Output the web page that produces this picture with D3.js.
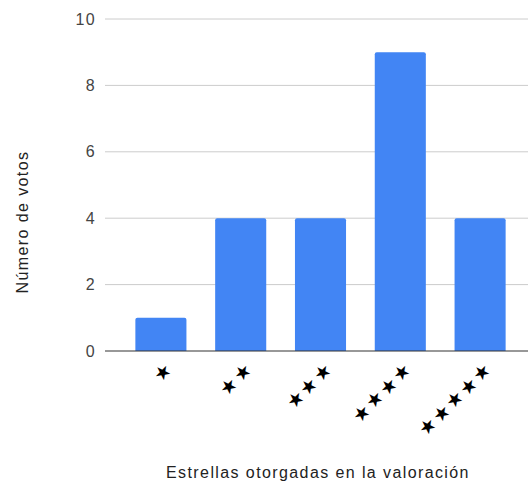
<!DOCTYPE html>
<html>
<head>
<meta charset="utf-8">
<script src="https://cdn.jsdelivr.net/npm/d3@7"></script>
<style>
  body { margin: 0; background: #fff; }
  text { font-family: Arial, "Liberation Sans", sans-serif; }
</style>
</head>
<body>
<div id="chart"></div>
<script>
const categories = ["★", "★★", "★★★", "★★★★", "★★★★★"];
const votes = [1, 4, 4, 9, 4];
const yTicks = [0, 2, 4, 6, 8, 10];
const xTitle = "Estrellas otorgadas en la valoración";
const yTitle = "Número de votos";

const size = {width: 528, height: 485};
const plot = {left: 105, right: 528, top: 19, bottom: 351};
const band = {left: 121, right: 520};

const svg = d3.select("#chart").append("svg")
    .attr("width", size.width)
    .attr("height", size.height);

const xScale = d3.scaleBand()
    .domain(categories)
    .range([band.left, band.right])
    .paddingInner(0.36)
    .paddingOuter(0.18);

const yScale = d3.scaleLinear()
    .domain([0, 10])
    .range([plot.bottom, plot.top]);

// gridlines
svg.append("g")
    .attr("class", "gridG")
    .selectAll("line")
    .data(yTicks.filter(d => d !== 0))
    .join("line")
    .attr("x1", plot.left)
    .attr("x2", plot.right)
    .attr("y1", d => yScale(d))
    .attr("y2", d => yScale(d))
    .attr("stroke", "#cccccc")
    .attr("stroke-width", 1);

// y axis labels
const yAxis = d3.axisLeft(yScale).tickValues(yTicks).tickSize(0).tickPadding(9);
const yAxisG = svg.append("g")
    .attr("class", "yAxisG")
    .attr("transform", "translate(" + plot.left + ",0)")
    .call(yAxis);
yAxisG.select(".domain").remove();
yAxisG.selectAll("text")
    .attr("font-size", 16)
    .attr("letter-spacing", "1.4px")
    .attr("fill", "#444444")
    .attr("font-family", "Arial, 'Liberation Sans', sans-serif");

// bars with slightly rounded tops
const r = 2;
svg.append("g")
    .attr("class", "barsG")
    .selectAll("path")
    .data(categories.map((c, i) => ({cat: c, value: votes[i]})))
    .join("path")
    .attr("fill", "#4285f4")
    .attr("d", d => {
        const x0 = xScale(d.cat), w = xScale.bandwidth();
        const y0 = yScale(d.value), y1 = yScale(0);
        return `M${x0},${y1}V${y0 + r}Q${x0},${y0} ${x0 + r},${y0}H${x0 + w - r}Q${x0 + w},${y0} ${x0 + w},${y0 + r}V${y1}Z`;
    });

// baseline
svg.append("line")
    .attr("x1", plot.left)
    .attr("x2", plot.right)
    .attr("y1", yScale(0))
    .attr("y2", yScale(0))
    .attr("stroke", "#333333")
    .attr("stroke-width", 1.2);

// x axis labels (stars, rotated)
const xAxis = d3.axisBottom(xScale).tickSize(0);
const xAxisG = svg.append("g")
    .attr("class", "xAxisG")
    .attr("transform", "translate(0," + plot.bottom + ")")
    .call(xAxis);
xAxisG.select(".domain").remove();
xAxisG.selectAll("text")
    .attr("font-family", "'DejaVu Sans', sans-serif")
    .attr("font-size", 19)
    .attr("fill", "#000")
    .attr("letter-spacing", "2.1px")
    .attr("text-anchor", "end")
    .attr("x", 0)
    .attr("y", 0)
    .attr("dy", "0.35em")
    .attr("transform", "translate(9,14) rotate(-45)");

// axis titles
svg.append("text")
    .attr("x", 318)
    .attr("y", 478)
    .attr("text-anchor", "middle")
    .attr("font-size", 16)
    .attr("letter-spacing", "1.4px")
    .attr("fill", "#222222")
    .text(xTitle);

svg.append("text")
    .attr("transform", "translate(28,222) rotate(-90)")
    .attr("text-anchor", "middle")
    .attr("font-size", 16)
    .attr("letter-spacing", "1.4px")
    .attr("fill", "#222222")
    .text(yTitle);
</script>
</body>
</html>
